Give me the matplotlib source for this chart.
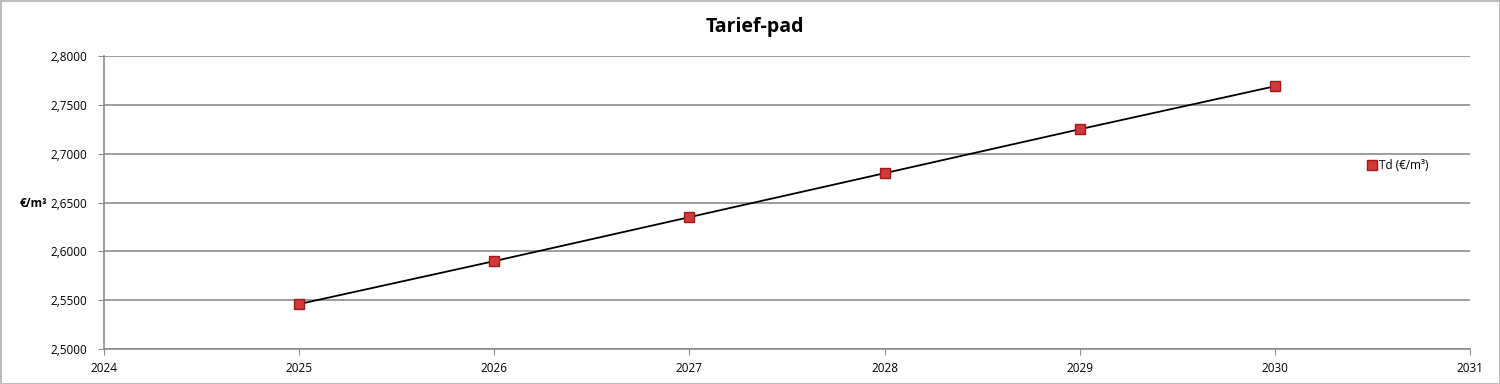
import matplotlib
matplotlib.use('Agg')
import matplotlib.pyplot as plt
from matplotlib.ticker import FuncFormatter, MultipleLocator

# Data
jaren = [2025, 2026, 2027, 2028, 2029, 2030]
tarief = [2.546, 2.590, 2.635, 2.680, 2.725, 2.769]

plt.rcParams['font.family'] = ['Open Sans', 'DejaVu Sans']

fig = plt.figure(figsize=(15, 3.84), dpi=100)
fig.patch.set_edgecolor('#bdbdbd')
fig.patch.set_linewidth(2)
ax = fig.add_axes([0.0693, 0.0911, 0.9107, 0.7631])

ax.plot(jaren, tarief, color='black', linewidth=1.3, zorder=2)
ax.plot(jaren, tarief, linestyle='none', marker='s', markersize=7.5,
        markerfacecolor='#d03a3a', markeredgecolor='#a01818', markeredgewidth=1,
        label='Td (€/m³)', zorder=3)

ax.set_xlim(2024, 2031)
ax.set_ylim(2.5, 2.8)
ax.xaxis.set_major_locator(MultipleLocator(1))
ax.yaxis.set_major_locator(MultipleLocator(0.05))
ax.yaxis.set_major_formatter(FuncFormatter(lambda v, p: f'{v:.4f}'.replace('.', ',')))

ax.grid(axis='y', color='#8c8c8c', linewidth=1.2)
ax.set_axisbelow(True)
for s in ['top', 'right']:
    ax.spines[s].set_visible(False)
for s in ['left', 'bottom']:
    ax.spines[s].set_color('#8c8c8c')
    ax.spines[s].set_linewidth(1.2)
ax.tick_params(axis='both', colors='#8c8c8c', labelcolor='black', labelsize=8.5, length=4)
ax.tick_params(axis='y', pad=8)
ax.tick_params(axis='x', pad=5)

fig.text(0.503, 0.93, 'Tarief-pad', fontsize=14, fontweight='bold', ha='center', va='center')
fig.text(0.013, 0.47, '€/m³', fontsize=8.5, fontweight='bold', va='center', ha='left')

ax.legend(loc='center left', bbox_to_anchor=(0.9215, 0.625), frameon=False, fontsize=8.5,
          handlelength=0.6, handletextpad=0.3, borderpad=0)

fig.savefig('out.png', dpi=100)
